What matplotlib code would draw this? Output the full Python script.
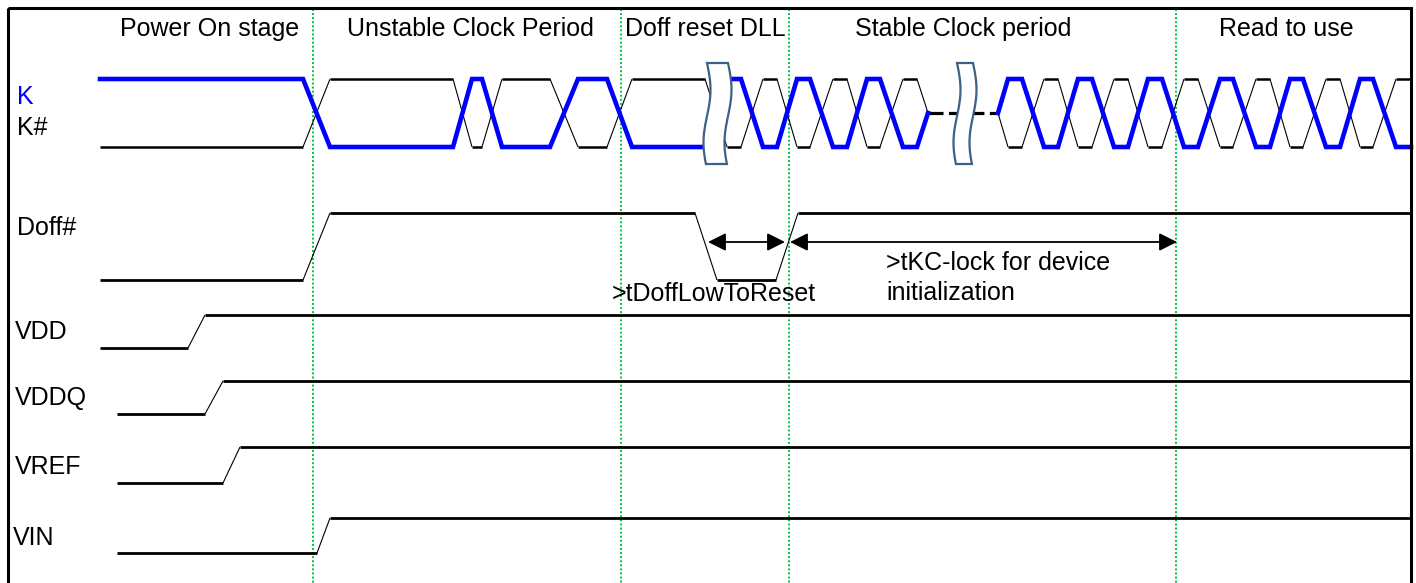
import matplotlib.pyplot as plt
import numpy as np
from matplotlib.patches import Polygon, Rectangle

plt.rcParams['font.family'] = ['Liberation Sans', 'DejaVu Sans']

# stage titles along the top and the dotted stage boundaries
stage_names = ["Power On stage", "Unstable Clock Period", "Doff reset DLL",
               "Stable Clock period", "Read to use"]
stage_centres = [210, 470, 705, 963, 1286]
stage_bounds = [313, 621, 789, 1176]

# clock K: x of each vertex and level (1 high, 0 low, 0.5 mid)
k1_x = [100, 303, 330, 453, 472, 482, 502, 550, 578, 607, 632, 705, 727,
        741, 763, 777, 797, 810, 833, 847, 867, 880, 903, 917, 928]
k1_lvl = [1, 1, 0, 0, 1, 1, 0, 0, 1, 1, 0, 0, 1,
          1, 0, 0, 1, 1, 0, 0, 1, 1, 0, 0, 0.5]
k2_x = [998, 1008, 1022, 1044, 1058, 1078, 1092, 1114, 1128, 1148, 1162, 1184,
        1198, 1220, 1233, 1256, 1270, 1290, 1303, 1326, 1340, 1360, 1373, 1396, 1411]
k2_lvl = [0.5, 1, 1, 0, 0, 1, 1, 0, 0, 1, 1, 0,
          0, 1, 1, 0, 0, 1, 1, 0, 0, 1, 1, 0, 0]
gap_x = [928, 998]          # dashed "many cycles" part

doff_x = [100, 303, 330, 695, 717, 776, 798, 1411]
doff_lvl = [0, 0, 1, 1, 0, 0, 1, 1]

vdd_x = [100, 188, 205, 1411]
vddq_x = [117, 205, 223, 1411]
vref_x = [117, 223, 240, 1411]
vin_x = [117, 317, 330, 1411]
ramp_lvl = [0, 0, 1, 1]

# arrows for the timing requirements
t_doff = (708, 785)
t_kc = (790, 1177)

# break marks on the clock
breaks_x = [(707, 728), (957, 973)]

fig = plt.figure(figsize=(14.16, 5.83), dpi=100)
ax = fig.add_axes([0, 0, 1, 1])
ax.set_xlim(0, 1416)
ax.set_ylim(583, 0)
ax.axis('off')


def wave(x, lvl, hi, lo, color, flat_lw, edge_lw, z=3):
    x = np.asarray(x, float)
    lvl = np.asarray(lvl, float)
    y = lo + (hi - lo) * lvl
    for i in range(len(x) - 1):
        w = flat_lw if lvl[i] == lvl[i + 1] else edge_lw
        ax.plot(x[i:i + 2], y[i:i + 2], color=color, lw=w,
                solid_capstyle='butt', zorder=z)


# frame
ax.add_patch(Rectangle((8, 8), 1403, 577, fill=False, lw=2.2, ec='k', zorder=6))

for b in stage_bounds:
    ax.plot([b, b], [9, 583], color='#00c048', lw=1.4, ls=(0, (1, 1.1)), zorder=1)

for name, cx in zip(stage_names, stage_centres):
    ax.text(cx, 29, name, fontsize=18, ha='center', va='center')

# K / K#
k_hi, k_lo = 79, 147
for xs, lv in [(k1_x, k1_lvl), (k2_x, k2_lvl)]:
    inv = [1 - v if v != 0.5 else 0.5 for v in lv]
    wave(xs, inv, k_hi, k_lo, 'k', 1.8, 0.8, z=3)
    y = [k_lo + (k_hi - k_lo) * v for v in lv]
    ax.plot(xs, y, color='#0000ff', lw=3.3, solid_joinstyle='miter', zorder=4)
ax.plot(gap_x, [(k_hi + k_lo) / 2] * 2, color='k', lw=2.3, ls=(0, (4.7, 1.7)), zorder=3)

for x0, x1 in breaks_x:
    s = np.linspace(0, 1, 40)
    yy = 63 + 101 * s
    off = 3.5 * np.sin(2 * np.pi * s * 0.95)
    left = np.column_stack([x0 + off, yy])
    right = np.column_stack([x1 + off, yy])[::-1]
    ax.add_patch(Polygon(np.vstack([left, right]), closed=True, fc='white',
                         ec='#3d6185', lw=1.6, zorder=5))

# Doff#
wave(doff_x, doff_lvl, 213, 280, 'k', 2.0, 0.8)

# supplies
for xs, hi, lo in [(vdd_x, 315, 348), (vddq_x, 381, 414),
                   (vref_x, 447, 483), (vin_x, 518, 553)]:
    wave(xs, ramp_lvl, hi, lo, 'k', 2.0, 0.8)

# signal names
labels = [("K", 17, 97, '#0000ff'), ("K#", 17, 128, 'k'), ("Doff#", 17, 228, 'k'),
          ("VDD", 15, 332, 'k'), ("VDDQ", 15, 398, 'k'), ("VREF", 15, 467, 'k'),
          ("VIN", 13, 538, 'k')]
for txt, x, y, c in labels:
    ax.text(x, y, txt, fontsize=18, color=c, ha='left', va='center')

# timing arrows
for a, b in [t_doff, t_kc]:
    ax.annotate('', xy=(b, 242), xytext=(a, 242),
                arrowprops=dict(arrowstyle='<|-|>', color='k', lw=1.3,
                                mutation_scale=27, shrinkA=0, shrinkB=0), zorder=4)

ax.text(612, 294, ">tDoffLowToReset", fontsize=18, ha='left', va='center', zorder=5)
ax.text(886, 278, ">tKC-lock for device\ninitialization", fontsize=18,
        ha='left', va='center', linespacing=1.3, zorder=5)

fig.savefig('out.png', dpi=100)
